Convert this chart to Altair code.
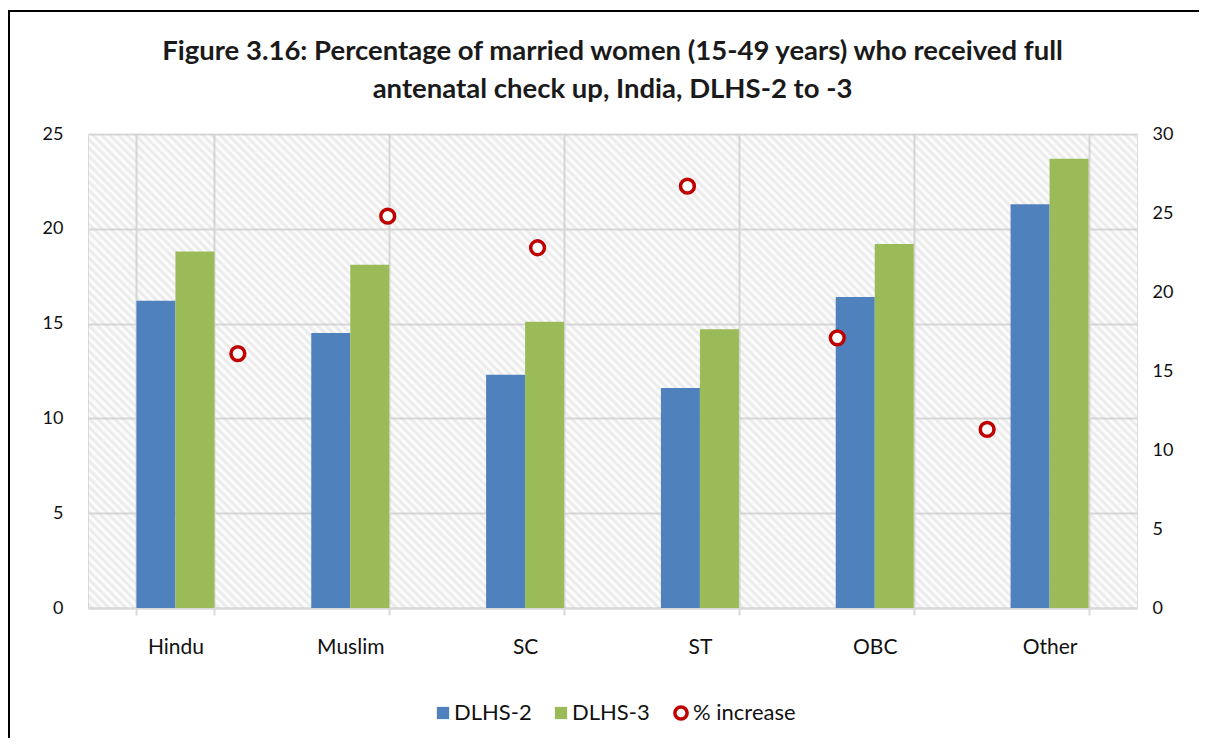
import altair as alt
import pandas as pd

categories = ["Hindu", "Muslim", "SC", "ST", "OBC", "Other"]
dlhs2 = [16.2, 14.5, 12.3, 11.6, 16.4, 21.3]
dlhs3 = [18.8, 18.1, 15.1, 14.7, 19.2, 23.7]
pct_increase = [16.1, 24.8, 22.8, 26.7, 17.1, 11.3]
left_ticks = [0, 5, 10, 15, 20, 25]
right_ticks = [0, 5, 10, 15, 20, 25, 30]
series_names = ["DLHS-2", "DLHS-3"]
line_name = "% increase"
title_lines = [
    "Figure 3.16: Percentage of married women (15-49 years) who received full",
    "antenatal check up, India, DLHS-2 to -3",
]

W, H = 1049, 474
FONT = "Lato"
GRID = "#d9d9d9"

bars_df = pd.DataFrame({
    "category": categories * 2,
    "series": [series_names[0]] * len(categories) + [series_names[1]] * len(categories),
    "value": dlhs2 + dlhs3,
})
pts_df = pd.DataFrame({
    "category": categories,
    "value": pct_increase,
    "label": [line_name] * len(categories),
})
one = pd.DataFrame({"k": [0]})
one_top = pd.DataFrame({"edge": ["top"]})

# diagonal hatch for the plot background (style only)
N = 180
stops = []
for k in range(N):
    stops.append({"offset": k / N, "color": "rgba(200,200,200,0)"})
    stops.append({"offset": (k + 0.5) / N, "color": "rgba(200,200,200,0.42)"})
stops.append({"offset": 1.0, "color": "rgba(200,200,200,0)"})
hatch = {"gradient": "linear", "x1": 0, "y1": 1, "x2": 1.2057, "y2": 0.455, "stops": stops}

bg = alt.Chart(one).mark_rect(fill=hatch, strokeWidth=0).encode(
    x=alt.value(0), x2=alt.value("width"), y=alt.value(0), y2=alt.value("height")
)

bars = alt.Chart(bars_df).mark_bar().encode(
    x=alt.X(
        "category:N", sort=categories,
        scale=alt.Scale(paddingInner=0.5539, paddingOuter=0.277),
        axis=alt.Axis(
            title=None, labelAngle=0, tickBand="extent", grid=True,
            gridColor=GRID, gridWidth=2, tickColor=GRID, tickWidth=2, tickSize=7,
            domainColor=GRID, domainWidth=2, labelFontSize=21, labelPadding=21,
            labelFont=FONT, labelColor="#111",
        ),
    ),
    xOffset=alt.XOffset("series:N", sort=series_names,
                        scale=alt.Scale(paddingInner=0, paddingOuter=0)),
    y=alt.Y(
        "value:Q", scale=alt.Scale(domain=[0, 25]),
        axis=alt.Axis(
            values=left_ticks, title=None, grid=True, gridColor=GRID, gridWidth=2,
            ticks=False, domain=False, labelPadding=25, labelFontSize=18,
            labelFont=FONT, labelColor="#111",
        ),
    ),
    color=alt.Color(
        "series:N", sort=series_names,
        scale=alt.Scale(domain=series_names, range=["#4f81bd", "#9bbb59"]),
        legend=alt.Legend(title=None, orient="none", direction="horizontal",
                          legendX=344, legendY=568, padding=0,
                          symbolType="square", symbolSize=150, symbolStrokeWidth=0,
                          labelFontSize=22, labelFont=FONT, labelColor="#111",
                          labelOffset=0, columnPadding=18),
    ),
)

pts = alt.Chart(pts_df).mark_point(shape="circle", size=190, strokeWidth=3.5, fill="white",
                                   fillOpacity=1).encode(
    x=alt.X("category:N", sort=categories, scale=alt.Scale(type="point", padding=1), axis=None),
    y=alt.Y(
        "value:Q", scale=alt.Scale(domain=[0, 30]),
        axis=alt.Axis(
            orient="right", values=right_ticks, title=None, grid=False, ticks=False,
            domain=False, labelPadding=15, labelFontSize=18, labelFont=FONT,
            labelColor="#111",
        ),
    ),
    stroke=alt.Stroke(
        "label:N", scale=alt.Scale(domain=[line_name], range=["#c00000"]),
        legend=alt.Legend(title=None, orient="none", direction="horizontal",
                          legendX=582, legendY=568, padding=0,
                          symbolType="circle", symbolSize=150, symbolStrokeWidth=3.5,
                          symbolFillColor="white",
                          labelFontSize=22, labelFont=FONT, labelColor="#111",
                          labelOffset=1),
    ),
)

# outer chart frame: left and top edges (right and bottom edges lie outside the window)
frame_left = alt.Chart(one).mark_rect(fill="black", strokeWidth=0).encode(
    x=alt.value(-80), x2=alt.value(-78), y=alt.value(-124), y2=alt.value(H + 130)
)
frame_top = alt.Chart(one_top).mark_rule(stroke="black", strokeWidth=2, strokeCap="butt").encode(
    x=alt.value(-80), x2=alt.value(W + 62), y=alt.value(-123), y2=alt.value(-123)
)

chart = alt.layer(bg, bars, pts, frame_left, frame_top).resolve_scale(
    x="independent", y="independent"
).properties(
    width=W, height=H,
    autosize=alt.AutoSizeParams(type="none"),
    padding={"left": 80, "top": 126, "right": 63, "bottom": 130},
    title=alt.Title(text=title_lines, fontSize=27.5, font=FONT, fontWeight="bold",
                    anchor="middle", lineHeight=38, offset=0, dy=93, frame="group",
                    color="#1a1a1a"),
).configure_view(
    stroke=GRID, strokeWidth=2, fill="white"
).configure(background="white")

chart.save("out.html", embed_options={"renderer": "svg", "actions": False})
